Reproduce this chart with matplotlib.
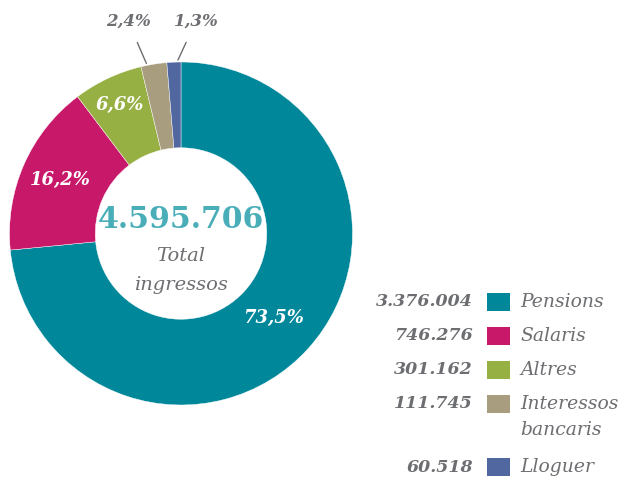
import numpy as np
import matplotlib
matplotlib.use("Agg")
import matplotlib.pyplot as plt
from matplotlib.patches import Rectangle

labels = ["Pensions", "Salaris", "Altres", "Interessos\nbancaris", "Lloguer"]
values = [3376004, 746276, 301162, 111745, 60518]
value_text = ["3.376.004", "746.276", "301.162", "111.745", "60.518"]
pct_text = ["73,5%", "16,2%", "6,6%", "2,4%", "1,3%"]
total_text = "4.595.706"
colors = ["#00879a", "#c8186a", "#97b043", "#a89e7f", "#5167a0"]

W, H = 619, 479
gray = "#6d6e71"
serif = "DejaVu Serif"

fig = plt.figure(figsize=(W / 100, H / 100), dpi=100)
ax = fig.add_axes([0, 0, 1, 1])

Y = lambda y: H - y  # pixel row -> data y

cx, cy, R = 181, Y(233.5), 171.5
wedges, _ = ax.pie(values, colors=colors, startangle=90, counterclock=False,
                   center=(cx, cy), radius=R,
                   wedgeprops=dict(width=R * 0.5, edgecolor="white", linewidth=0.3))

ax.set_xlim(0, W)
ax.set_ylim(0, H)
ax.set_aspect("equal")
ax.axis("off")

# percentage labels inside the ring
inside_r = [0.73, 0.77, 0.83]
for w, txt, rf in zip(wedges[:3], pct_text[:3], inside_r):
    a = np.deg2rad((w.theta1 + w.theta2) / 2)
    ax.text(cx + R * rf * np.cos(a), cy + R * rf * np.sin(a), txt,
            color="white", fontsize=13, fontweight="semibold", style="italic",
            family=serif, ha="center", va="center")

# small slices: labels outside with leader lines
out_pos = [(128, 21), (196, 21)]
line_ang = [101.5, 91.0]
for txt, (tx, ty), ang in zip(pct_text[3:], out_pos, line_ang):
    a = np.deg2rad(ang)
    ax.annotate(txt, xy=(cx + (R + 2) * np.cos(a), cy + (R + 2) * np.sin(a)),
                xytext=(tx, Y(ty)), color=gray, fontsize=12, fontweight="bold",
                style="italic", family=serif, ha="center", va="center",
                arrowprops=dict(arrowstyle="-", color=gray, lw=1.0,
                                shrinkA=8, shrinkB=0))

# centre text
ax.text(cx, Y(219), total_text, color="#4aaeb9", fontsize=21.5, fontweight="bold",
        family=serif, ha="center", va="center")
ax.text(cx, Y(256), "Total", color=gray, fontsize=14, style="italic",
        family=serif, ha="center", va="center")
ax.text(cx, Y(285), "ingressos", color=gray, fontsize=14, style="italic",
        family=serif, ha="center", va="center")

# legend
row_y = 302
for lab, vt, c in zip(labels, value_text, colors):
    ax.text(473, Y(row_y), vt, color=gray, fontsize=12.5, fontweight="bold",
            style="italic", family=serif, ha="right", va="center")
    ax.add_patch(Rectangle((487, Y(row_y + 9)), 23, 18, color=c, lw=0))
    ax.text(520, Y(row_y - 9), lab, color=gray, fontsize=13.5, style="italic",
            family=serif, ha="left", va="top", linespacing=1.6)
    row_y += 34 + 29 * lab.count("\n")

fig.savefig("out.png", dpi=100, facecolor="white")
